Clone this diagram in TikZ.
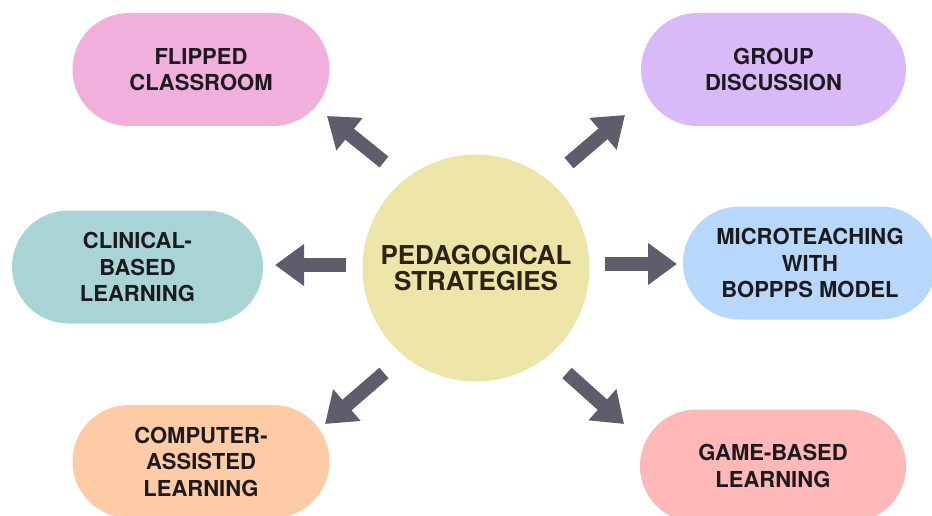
\documentclass[tikz,border=0pt]{standalone}
\usepackage{fontspec}
\setmainfont{TeX Gyre Heros}
\usetikzlibrary{arrows.meta}
\definecolor{txt}{HTML}{1C1A1E}
\definecolor{ctxt}{HTML}{2A2418}
\definecolor{arr}{HTML}{5E5D6B}
\definecolor{cpink}{HTML}{F1B0DB}
\definecolor{clav}{HTML}{D8BAF8}
\definecolor{cteal}{HTML}{A9D4D6}
\definecolor{cblue}{HTML}{B7D8FA}
\definecolor{cpeach}{HTML}{FDCBA5}
\definecolor{csalmon}{HTML}{FDB8B7}
\definecolor{cyel}{HTML}{EDE4A8}
\tikzset{
  pill/.style={rectangle, rounded corners=56.5pt, minimum height=113pt, inner sep=0pt,
    align=center, text=txt, font=\bfseries\fontsize{22pt}{26.5pt}\selectfont},
  bigarrow/.style={draw=arr, line width=14pt, -{Triangle[width=40pt,length=29pt]}},
}
\begin{document}
\begin{tikzpicture}[x=1pt,y=-1pt]
\fill[white] (0,0) rectangle (932,516);
\useasboundingbox (0,0) rectangle (932,516);
% center
\node[circle, fill=cyel, minimum size=227pt, inner sep=0pt, align=center, text=ctxt,
  font=\bfseries\fontsize{26pt}{26pt}\selectfont] (c) at (476,268) {PEDAGOGICAL\\STRATEGIES};
% pills
\node[pill, fill=cpink, minimum width=257pt] (fc) at (201,69.5) {FLIPPED\\CLASSROOM};
\node[pill, fill=clav, minimum width=265pt] (gd) at (773.5,69.5) {GROUP\\DISCUSSION};
\node[pill, fill=cteal, minimum width=251pt] (cb) at (137.5,267) {CLINICAL-\\BASED\\LEARNING};
\node[pill, fill=cblue, minimum width=254pt] (mt) at (810,263) {MICROTEACHING\\WITH\\BOPPPS MODEL};
\node[pill, fill=cpeach, minimum width=257pt] (ca) at (201,461.5) {COMPUTER-\\ASSISTED\\LEARNING};
\node[pill, fill=csalmon, minimum width=266pt] (gb) at (773,466) {GAME-BASED\\LEARNING};
% arrow end points
\coordinate (fcs) at (384,162); \coordinate (fce) at (327,116);
\coordinate (gds) at (569,163); \coordinate (gde) at (625,115);
\coordinate (cbs) at (346,265); \coordinate (cbe) at (275,265);
\coordinate (mts) at (605,264); \coordinate (mte) at (677,264);
\coordinate (cas) at (384,373); \coordinate (cae) at (325,424);
\coordinate (gbs) at (567,373); \coordinate (gbe) at (624,424);
\draw[bigarrow] (fcs) -- (fce);
\draw[bigarrow] (gds) -- (gde);
\draw[bigarrow] (cbs) -- (cbe);
\draw[bigarrow] (mts) -- (mte);
\draw[bigarrow] (cas) -- (cae);
\draw[bigarrow] (gbs) -- (gbe);
\end{tikzpicture}
\end{document}
